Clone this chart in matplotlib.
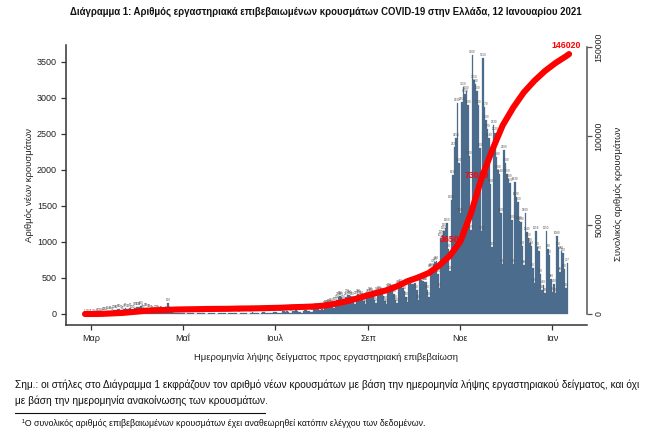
import numpy as np
import pandas as pd
import matplotlib
matplotlib.use('Agg')
import matplotlib.pyplot as plt
import matplotlib.dates as mdates
from matplotlib.lines import Line2D

plt.rcParams['font.family'] = ['Liberation Sans', 'DejaVu Sans']

# new cases per day, by sample date (first day 26 Feb 2020)
start_date = '2020-02-26'
cases_feb = [1, 2, 3, 2]
cases_mar = [1, 2, 3, 4, 7, 10, 15, 8, 20, 25, 30, 35, 40, 45, 30, 50, 55, 60, 65, 70,
             50, 45, 75, 80, 70, 75, 85, 60, 50, 90, 95]
cases_apr = [100, 95, 110, 75, 50, 85, 80, 75, 65, 55, 45, 30, 50, 55, 45, 40, 35, 30, 25, 35,
             150, 40, 30, 25, 20, 12, 18, 20, 15, 12]
cases_may = [10, 8, 5, 12, 15, 10, 12, 8, 5, 4, 15, 12, 10, 8, 10, 5, 4, 12, 15, 20,
             10, 8, 5, 6, 12, 20, 15, 10, 8, 5, 10]
cases_jun = [10, 12, 15, 8, 10, 5, 4, 15, 20, 12, 10, 8, 6, 5, 18, 25, 20, 15, 12, 8,
             6, 20, 25, 30, 20, 15, 10, 8, 20, 25]
cases_jul = [25, 30, 20, 15, 12, 35, 40, 30, 35, 25, 20, 15, 40, 45, 50, 35, 30, 25, 20, 45,
             50, 55, 45, 40, 30, 25, 70, 80, 75, 80, 60]
cases_aug = [70, 60, 110, 120, 130, 140, 150, 120, 90, 160, 200, 230, 250, 240, 200, 150, 240, 270, 260, 250,
             230, 180, 140, 250, 280, 260, 250, 220, 180, 140, 230]
cases_sep = [280, 300, 290, 260, 200, 150, 300, 320, 310, 290, 250, 180, 140, 350, 360, 340, 330, 280, 200, 150,
             400, 410, 390, 360, 320, 230, 170, 420, 430, 410]
cases_oct = [420, 430, 330, 200, 480, 470, 460, 450, 440, 330, 240, 620, 640, 700, 720, 740, 560, 360, 1050, 1100,
             1150, 1200, 1260, 900, 600, 1580, 1930, 2320, 2450, 2930, 2100]
cases_nov = [1400, 2950, 3150, 3050, 3100, 2900, 2200, 1170, 3600, 3250, 3200, 3100, 2900, 2300, 1150, 3550, 2870, 2700, 2570, 2440,
             1800, 930, 2630, 2520, 2180, 2000, 1940, 1400, 700, 2280]
cases_dec = [2100, 1950, 1880, 1820, 1300, 700, 1830, 1620, 1560, 1290, 1280, 950, 680, 1400, 1140, 1060, 990, 940, 640, 430,
             1158, 930, 870, 560, 330, 400, 290, 1150, 900, 820, 480]
cases_jan = [300, 420, 290, 1080, 930, 580, 880, 850, 620, 360, 707]

# cumulative total (announced), weekly
cum_dates = ['2020-02-26', '2020-03-01', '2020-03-08', '2020-03-15', '2020-03-22', '2020-03-29',
             '2020-04-05', '2020-04-12', '2020-04-19', '2020-04-26', '2020-05-03', '2020-05-10',
             '2020-05-17', '2020-05-24', '2020-05-31', '2020-06-07', '2020-06-14', '2020-06-21',
             '2020-06-28', '2020-07-05', '2020-07-12', '2020-07-19', '2020-07-26', '2020-08-02',
             '2020-08-09', '2020-08-16', '2020-08-23', '2020-08-30', '2020-09-06', '2020-09-13',
             '2020-09-20', '2020-09-27', '2020-10-04', '2020-10-11', '2020-10-18', '2020-10-25',
             '2020-11-01', '2020-11-08', '2020-11-15', '2020-11-22', '2020-11-29', '2020-12-06',
             '2020-12-13', '2020-12-20', '2020-12-27', '2021-01-03', '2021-01-10', '2021-01-12']
cum_total = [1, 7, 73, 331, 624, 1156,
             1735, 2081, 2235, 2506, 2620, 2710,
             2819, 2878, 2917, 3058, 3121, 3227,
             3376, 3511, 3803, 3964, 4193, 4662,
             5623, 6858, 8381, 10145, 11788, 13341,
             15595, 18475, 20541, 23060, 27334, 32752,
             40929, 56698, 76403, 92000, 106000, 116000,
             124500, 131000, 136500, 141000, 144800, 146020]
milestones = [36505, 73010, 146020]

tick_dates = ['2020-03-01', '2020-05-01', '2020-07-01', '2020-09-01', '2020-11-01', '2021-01-01']
tick_labels = ['Μαρ', 'Μαΐ', 'Ιουλ', 'Σεπ', 'Νοε', 'Ιαν']

daily_cases = (cases_feb + cases_mar + cases_apr + cases_may + cases_jun + cases_jul
               + cases_aug + cases_sep + cases_oct + cases_nov + cases_dec + cases_jan)

W, H = 651, 437
fig = plt.figure(figsize=(W / 100, H / 100), dpi=100)
ax = fig.add_axes([66 / W, 1 - 325 / H, (587 - 66) / W, (325 - 45) / H])
ax2 = ax.twinx()

bar_color = '#4b6c8c'
x = mdates.date2num(pd.date_range(start_date, periods=len(daily_cases), freq='D'))
ax.bar(x, daily_cases, width=1.0, color=bar_color, edgecolor=bar_color, linewidth=0.2)
for xi, v in zip(x, daily_cases):
    ax.text(xi, v + 15, str(v), fontsize=2.2, ha='center', va='bottom', color='#555555')

cx = mdates.date2num(pd.to_datetime(cum_dates))
ax2.plot(cx, cum_total, color='#ff0000', lw=4.4, solid_capstyle='round', solid_joinstyle='round')
for m in milestones:
    mx = np.interp(m, cum_total, cx)
    ax2.annotate(str(m), (mx, m), xytext=(-2, 6.5), textcoords='offset points',
                 ha='center', va='center', color='#ff0000', fontsize=6.3, fontweight='bold')

x0 = mdates.date2num(pd.Timestamp('2020-03-01'))
ax.set_xlim(x0 - 16.6, x0 + 328.9)
ax.set_ylim(-153, 3736)
ax2.set_ylim(-6180, 151124)

ax.set_xticks(mdates.date2num(pd.to_datetime(tick_dates)))
ax.set_xticklabels(tick_labels)
ax.set_yticks(range(0, 3501, 500))
ax2.set_yticks([0, 50000, 100000, 150000])
ax2.set_yticklabels(['0', '50000', '100000', '150000'], rotation=90, va='center')

spine_col = '#333333'
for a in (ax, ax2):
    a.spines['top'].set_visible(False)
ax.spines['right'].set_visible(False)
ax2.spines['left'].set_visible(False)
ax2.spines['bottom'].set_visible(False)
ax.spines['left'].set_color(spine_col)
ax.spines['bottom'].set_color(spine_col)
ax.spines['left'].set_linewidth(1.1)
ax.spines['bottom'].set_linewidth(1.1)
ax2.spines['right'].set_color('#555555')
ax2.spines['right'].set_linewidth(1.1)
ax2.spines['right'].set_bounds(0, 150000)

ax.tick_params(axis='both', length=3.6, width=0.9, color=spine_col, labelsize=6.5, pad=3, labelcolor='#222222')
ax2.tick_params(axis='y', length=3.6, width=0.9, color='#555555', labelsize=6.3, pad=2, labelcolor='#222222')

ax.set_ylabel('Αριθμός νέων κρουσμάτων', fontsize=6.8, color='#222222')
ax.yaxis.set_label_coords(-0.061, 0.5)
ax2.set_ylabel('Συνολικός αριθμός κρουσμάτων', fontsize=6.8, color='#222222', rotation=90)
ax2.yaxis.set_label_coords(1.052, 0.47)
ax.set_xlabel('Ημερομηνία λήψης δείγματος προς εργαστηριακή επιβεβαίωση', fontsize=6.8, color='#222222')
ax.xaxis.set_label_coords(0.5, -0.10)

fig.text(0.5, 1 - 12 / H,
         'Διάγραμμα 1: Αριθμός εργαστηριακά επιβεβαιωμένων κρουσμάτων COVID-19 στην Ελλάδα, 12 Ιανουαρίου 2021',
         ha='center', va='center', fontsize=6.95, fontweight='bold', color='#111111')

fig.text(15 / W, 1 - 385 / H,
         'Σημ.: οι στήλες στο Διάγραμμα 1 εκφράζουν τον αριθμό νέων κρουσμάτων με βάση την ημερομηνία λήψης '
         'εργαστηριακού δείγματος, και όχι',
         ha='left', va='center', fontsize=7.25, color='#111111')
fig.text(15 / W, 1 - 401 / H, 'με βάση την ημερομηνία ανακοίνωσης των κρουσμάτων.',
         ha='left', va='center', fontsize=7.25, color='#111111')
fig.add_artist(Line2D([15 / W, 265 / W], [1 - 413 / H, 1 - 413 / H], color='#111111', lw=0.8))
fig.text(22 / W, 1 - 424 / H,
         '¹Ο συνολικός αριθμός επιβεβαιωμένων κρουσμάτων έχει αναθεωρηθεί κατόπιν ελέγχου των δεδομένων.',
         ha='left', va='center', fontsize=6.3, color='#111111')

fig.savefig('out.png', dpi=100)
